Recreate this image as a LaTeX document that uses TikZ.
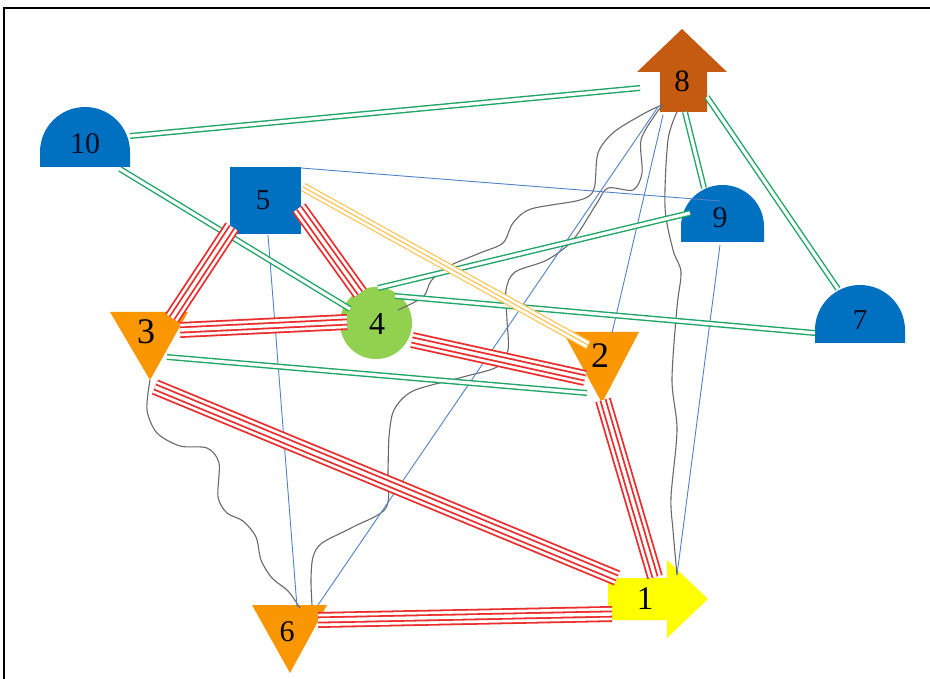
\documentclass[tikz,border=0pt]{standalone}
\usepackage{fontspec}
\setmainfont{Liberation Serif}
\pgfdeclarelayer{shapes}
\pgfdeclarelayer{labels}
\pgfsetlayers{shapes,main,labels}
\definecolor{shblue}{RGB}{0,112,192}
\definecolor{shorange}{RGB}{250,150,0}
\definecolor{shgreen}{RGB}{146,208,80}
\definecolor{shyellow}{RGB}{255,255,0}
\definecolor{shbrown}{RGB}{197,90,17}
\definecolor{lnred}{RGB}{235,45,45}
\definecolor{lngreen}{RGB}{30,165,100}
\definecolor{lnyellow}{RGB}{255,195,80}
\definecolor{lnblue}{RGB}{80,130,200}
\definecolor{lngray}{RGB}{105,105,105}
\definecolor{lblblue}{RGB}{8,14,38}
\tikzset{
  redband/.style={draw=lnred, line width=16pt,
    postaction={draw=white, line width=12.4pt},
    postaction={draw=lnred, line width=7pt},
    postaction={draw=white, line width=3.4pt}},
  yelband/.style={draw=lnyellow, line width=9pt,
    postaction={draw=white, line width=6.6pt},
    postaction={draw=lnyellow, line width=1.2pt}},
  grnband/.style={draw=lngreen, line width=1.4pt, double=white, double distance=3.2pt},
  blueln/.style={draw=lnblue, line width=0.9pt},
  grayln/.style={draw=lngray, line width=1.1pt},
  lbl/.style={inner sep=0pt, text=black},
}
\begin{document}
\begin{tikzpicture}[x=1pt,y=-1pt]
\useasboundingbox (0,0) rectangle (930,679);

% shapes
\begin{pgfonlayer}{shapes}
\fill[white] (0,0) rectangle (930,679);
% 10
\fill[shblue] (40,167) -- (40,152) .. controls (40,127.15) and (60.15,107) .. (85,107)
  .. controls (109.85,107) and (130,127.15) .. (130,152) -- (130,167) -- cycle;
% 9
\fill[shblue] (681,242) -- (681,226.5) .. controls (681,203.6) and (699.6,185) .. (722.5,185)
  .. controls (745.4,185) and (764,203.6) .. (764,226.5) -- (764,242) -- cycle;
% 7
\fill[shblue] (815,343) -- (815,330) .. controls (815,305.15) and (835.15,285) .. (860,285)
  .. controls (884.85,285) and (905,305.15) .. (905,330) -- (905,343) -- cycle;
% 5
\fill[shblue] (230,167) rectangle (301,234);
% 4
\fill[shgreen] (376,323) circle[radius=36];
% 3, 2, 6
\fill[shorange] (110,312) -- (188,312) -- (150,380) -- cycle;
\fill[shorange] (563,332) -- (639,332) -- (602,403) -- cycle;
\fill[shorange] (252,605) -- (327,605) -- (290,673) -- cycle;
% 1
\fill[shyellow] (608,578) -- (667,578) -- (667,560) -- (708,599) -- (667,638) -- (667,620) -- (608,620) -- cycle;
% 8
\fill[shbrown] (682,29) -- (727,72) -- (707,72) -- (707,112) -- (660,112) -- (660,72) -- (637,72) -- cycle;
\end{pgfonlayer}

% frame
\draw[line width=1.6pt] (930,8) -- (4,8) -- (4,679);

% labels
\begin{pgfonlayer}{labels}
\node[lbl, text=lblblue, font=\fontsize{30}{30}\selectfont] (n10) at (85,144) {10};
\node[lbl, text=lblblue, font=\fontsize{29}{29}\selectfont] (n5) at (263,200) {5};
\node[lbl, font=\fontsize{36}{36}\selectfont] (n3) at (146,332) {3};
\node[lbl, font=\fontsize{32}{32}\selectfont] (n4) at (377,324) {4};
\node[lbl, font=\fontsize{36}{36}\selectfont] (n2) at (600,356) {2};
\node[lbl, font=\fontsize{33}{33}\selectfont] (n1) at (645,599) {1};
\node[lbl, font=\fontsize{30}{30}\selectfont] (n6) at (287,632) {6};
\node[lbl, font=\fontsize{31}{31}\selectfont] (n8) at (682,81) {8};
\node[lbl, text=lblblue, font=\fontsize{30}{30}\selectfont] (n9) at (720,218) {9};
\node[lbl, text=lblblue, font=\fontsize{29}{29}\selectfont] (n7) at (860,320) {7};
\end{pgfonlayer}

% gray wavy connectors
\draw[grayln] plot[smooth, tension=0.5] coordinates {([shift={(21,-14)}]n4.center) (423,297) (431,281) (447,267) (480,253) (503,243) (513,223) (531,209) (580,200) (594,189) (598,153) (614,132) (645,113) ([shift={(-20,24)}]n8.center)};
\draw[grayln] plot[smooth, tension=0.5] coordinates {([shift={(25,-27)}]n6.center) (311,580) (313,557) (322,543) (353,527) (386,508) (388,470) (389,437) (394,410) (413,391) (463,377) (497,367) (508,350) (507,320) (506,290) (515,272) (547,260) (573,240) (597,203) (608,188) (633,190) (642,173) (641,140) (655,115) ([shift={(-19,24)}]n8.center)};
\draw[grayln] plot[smooth, tension=0.5] coordinates {([shift={(-5,31)}]n8.center) (668,140) (665,207) (673,250) (681,272) (677,307) (672,380) (677,430) (671,497) (673,530) ([shift={(32,-24)}]n1.center)};
\draw[grayln] plot[smooth, tension=0.5] coordinates {([shift={(4,48)}]n3.center) (147,410) (157,433) (180,446) (207,448) (219,463) (218,497) (227,513) (243,521) (256,537) (261,560) (272,578) (288,591) ([shift={(13,-24)}]n6.center)};

% blue thin connectors
\draw[blueln] ([shift={(38,-32)}]n5.center) -- ([shift={(0,-17)}]n9.center);
\draw[blueln] ([shift={(5,35)}]n5.center) -- ([shift={(10,-25)}]n6.center);
\draw[blueln] ([shift={(-24,26)}]n8.center) -- ([shift={(31,-27)}]n6.center);
\draw[blueln] ([shift={(-19,34)}]n8.center) -- ([shift={(12,-23)}]n2.center);
\draw[blueln] ([shift={(0,27)}]n9.center) -- ([shift={(32,-24)}]n1.center);

% green double connectors
\draw[grnband] ([shift={(45,-8)}]n10.center) -- ([shift={(-42,7)}]n8.center);
\draw[grnband] ([shift={(35,25)}]n10.center) -- ([shift={(-27,-15)}]n4.center);
\draw[grnband] ([shift={(1,-36)}]n4.center) -- ([shift={(-30,-5)}]n9.center);
\draw[grnband] ([shift={(18,-28)}]n4.center) -- ([shift={(-45,13)}]n7.center);
\draw[grnband] ([shift={(21,25)}]n3.center) -- ([shift={(-13,37)}]n2.center);
\draw[grnband] ([shift={(3,31)}]n8.center) -- ([shift={(-16,-30)}]n9.center);
\draw[grnband] ([shift={(25,16)}]n8.center) -- ([shift={(-22,-31)}]n7.center);

% yellow triple connector
\draw[yelband] ([shift={(40,-13)}]n5.center) -- ([shift={(-12,-11)}]n2.center);

% red bands
\draw[redband] ([shift={(-31,27)}]n5.center) -- ([shift={(26,-14)}]n3.center);
\draw[redband] ([shift={(36,8)}]n5.center) -- ([shift={(-17,-31)}]n4.center);
\draw[redband] ([shift={(34,-2)}]n3.center) -- ([shift={(-30,-2)}]n4.center);
\draw[redband] ([shift={(35,16)}]n4.center) -- ([shift={(-15,22)}]n2.center);
\draw[redband] ([shift={(9,55)}]n3.center) -- ([shift={(-28,-21)}]n1.center);
\draw[redband] ([shift={(3,44)}]n2.center) -- ([shift={(10,-22)}]n1.center);
\draw[redband] ([shift={(31,-12)}]n6.center) -- ([shift={(-33,15)}]n1.center);
\end{tikzpicture}
\end{document}
